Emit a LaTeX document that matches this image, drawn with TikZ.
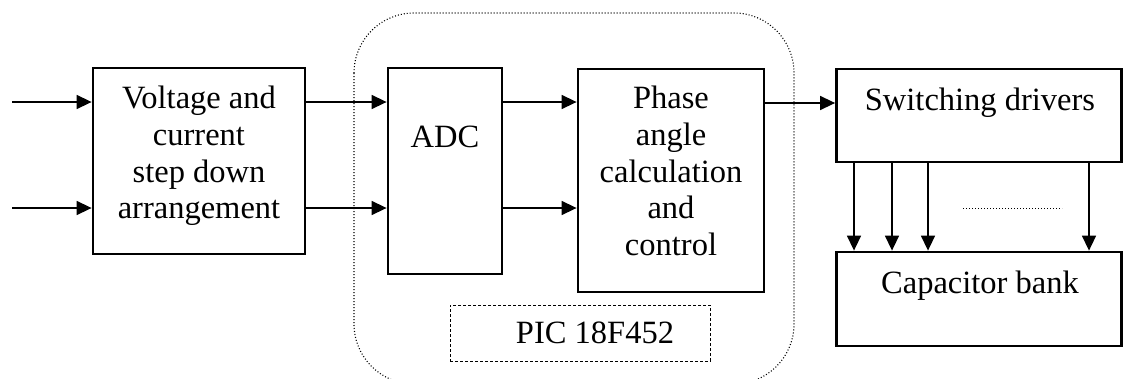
\documentclass[tikz,border=0pt]{standalone}
\usepackage{fontspec}
\setmainfont{Liberation Serif}
\usetikzlibrary{arrows.meta}
\begin{document}
\begin{tikzpicture}[x=1pt,y=-1pt,
  blockbox/.style={draw,line width=2.8pt,inner sep=0pt,minimum width=#1},
  lbl/.style={inner sep=0pt,align=center,font=\fontsize{32.5}{36.7}\selectfont},
  arr/.style={line width=1.5pt,-{Triangle[length=15pt,width=14pt]}},
]
\useasboundingbox (0,0) rectangle (1123,378);
% microcontroller outline
\draw[line width=1.1pt,dash pattern=on 1pt off 2pt,rounded corners=60pt] (354,13) rectangle (794,384);
\node[draw,line width=1pt,dash pattern=on 3pt off 2pt,minimum width=260pt,minimum height=56pt,inner sep=0pt] (pic) at (580,333) {};
\node[lbl,anchor=base] (tpic) at (595,343) {PIC 18F452};
% blocks
\node[blockbox=212pt,minimum height=186pt] (b1) at (199,161) {};
\node[blockbox=114pt,minimum height=206pt] (adc) at (445,171) {};
\node[blockbox=186pt,minimum height=223pt] (ph) at (671,180.5) {};
\node[blockbox=285pt,minimum height=93pt] (sw) at (979,115.5) {};
\node[blockbox=285pt,minimum height=94pt] (cap) at (979,299) {};
% texts
\node[lbl,anchor=north] (t1) at (199,86) {Voltage and\\current\\step down\\arrangement};
\node[lbl,anchor=base] (tadc) at (445,147) {ADC};
\node[lbl,anchor=north] (tph) at (671,86) {Phase\\angle\\calculation\\and\\control};
\node[lbl,anchor=base] (tsw) at (980,110) {Switching drivers};
\node[lbl,anchor=base] (tcap) at (980,293) {Capacitor bank};
% connectors
\coordinate (in1) at (12,102);
\coordinate (in2) at (12,208);
\coordinate (r) at (0,103);
\draw[arr] (in1) -- (in1 -| b1.west);
\draw[arr] (in2) -- (in2 -| b1.west);
\draw[arr] (b1.east |- in1) -- (adc.west |- in1);
\draw[arr] (b1.east |- in2) -- (adc.west |- in2);
\draw[arr] (adc.east |- in1) -- (ph.west |- in1);
\draw[arr] (adc.east |- in2) -- (ph.west |- in2);
\draw[arr] (ph.east |- r) -- (sw.west |- r);
\foreach \i/\xx in {1/854,2/892,3/928,4/1089}{
  \coordinate (d\i) at (\xx,0);
  \draw[arr] (sw.south -| d\i) -- (cap.north -| d\i);
}
\coordinate (e1) at (963,208);
\coordinate (e2) at (1062,208);
\draw[line width=0.8pt,dash pattern=on 1pt off 2pt] (e1) -- (e2);
\end{tikzpicture}
\end{document}
